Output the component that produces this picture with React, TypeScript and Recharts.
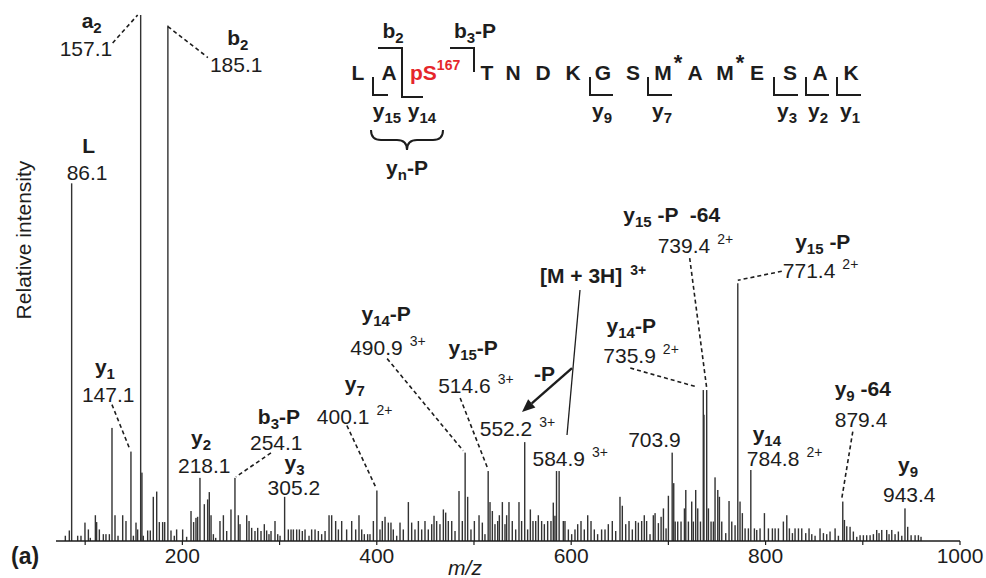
import React from 'react';
import { ComposedChart, Bar, Scatter, XAxis, YAxis } from 'recharts';

const FONT = '"Liberation Sans", Arial, Helvetica, sans-serif';
const INK = '#1d1d1d';
const RED = '#e5262b';

// labelled fragment peaks: [m/z, relative intensity]
const fragmentPeaks: [number, number][] = [
  [86.1, 68], [147.1, 17], [157.1, 100], [185.1, 98], [218.1, 12], [254.1, 12],
  [305.2, 8.4], [400.1, 9.6], [490.9, 16.8], [514.6, 13.3], [552.2, 18.8], [584.9, 13.3],
  [703.9, 16.8], [735.9, 28.7], [739.4, 28.7], [771.4, 49], [784.8, 13.5], [879.4, 7.5], [943.4, 6.2],
];

// ion names, '|' toggles subscript
const ionNames = [
  'L', 'y|1', 'a|2', 'b|2', 'y|2', 'b|3|-P', 'y|3', 'y|7', 'y|14|-P', 'y|15|-P',
  '', '', '', 'y|14|-P', 'y|15| -P  -64', 'y|15| -P', 'y|14', 'y|9| -64', 'y|9',
];

const ionCharges = [
  '', '', '', '', '', '', '', '2+', '3+', '3+', '3+', '3+', '', '2+', '2+', '2+', '2+', '', '',
];

// unlabelled background peaks: [m/z, relative intensity]
const noisePeaks: [number, number][] = [
  [79.6, 1.0], [83.7, 2.0], [92.3, 1.0], [95.7, 1.0], [99.8, 3.5], [103.3, 2.2], [105.3, 0.6],
  [110.5, 4.9], [111.8, 3.6], [114.6, 2.2], [118.7, 1.3], [121.4, 1.3], [124.9, 1.3], [127.6, 21.5],
  [130.7, 4.9], [133.8, 1.0], [138.6, 4.9], [142.0, 3.8], [149.6, 1.0], [152.3, 3.5], [154.0, 2.2],
  [158.4, 13.0], [159.8, 1.0], [164.3, 2.0], [167.0, 2.0], [170.1, 8.4], [173.6, 9.4], [176.3, 3.6],
  [179.7, 3.6], [181.8, 3.6], [188.3, 2.0], [191.7, 1.0], [194.1, 2.2], [200.3, 2.2], [204.4, 0.8],
  [208.9, 5.7], [211.6, 3.6], [214.0, 4.4], [215.7, 4.6], [222.6, 7.0], [226.0, 7.9], [227.7, 9.3],
  [229.5, 4.9], [231.9, 1.3], [234.3, 0.6], [238.7, 3.8], [242.2, 4.9], [245.6, 1.9], [250.0, 6.0],
  [257.6, 4.9], [259.3, 3.2], [266.2, 4.9], [268.6, 3.8], [271.3, 2.5], [274.7, 1.9], [277.5, 2.5],
  [280.9, 1.9], [284.3, 3.2], [286.7, 2.0], [289.1, 1.3], [291.2, 1.9], [295.3, 3.8], [298.1, 1.3],
  [300.5, 1.0], [309.0, 2.2], [311.8, 2.2], [314.2, 2.2], [317.6, 2.2], [320.4, 2.2], [323.4, 1.9],
  [326.2, 2.2], [330.3, 1.0], [333.0, 2.2], [336.5, 2.2], [339.9, 1.9], [343.3, 1.3], [346.8, 1.9],
  [350.9, 4.9], [353.6, 4.9], [357.7, 3.8], [360.5, 2.2], [363.9, 3.8], [369.0, 2.2], [374.2, 3.8],
  [378.3, 2.2], [381.7, 4.9], [384.5, 2.2], [387.2, 1.3], [390.6, 1.3], [393.0, 1.3], [396.5, 3.8],
  [403.3, 2.2], [405.7, 3.8], [408.5, 4.6], [411.9, 3.5], [414.6, 3.5], [417.0, 2.2], [420.5, 1.0],
  [423.9, 3.5], [427.3, 2.2], [432.5, 7.4], [435.9, 3.5], [439.3, 2.2], [442.8, 3.8], [446.2, 2.2],
  [449.6, 3.8], [453.0, 2.2], [456.5, 3.2], [458.9, 4.8], [461.6, 3.8], [465.0, 3.2], [468.5, 6.0],
  [470.9, 5.4], [473.6, 3.8], [477.1, 3.8], [480.5, 1.9], [484.6, 9.5], [488.0, 3.8], [493.5, 8.4],
  [496.9, 2.2], [500.4, 3.8], [505.2, 4.9], [508.6, 3.5], [511.3, 1.3], [516.5, 7.4], [518.9, 5.7],
  [521.6, 3.2], [524.4, 3.8], [526.1, 4.9], [529.2, 7.4], [531.9, 3.2], [533.6, 4.9], [536.0, 7.4],
  [539.4, 3.8], [542.9, 2.2], [546.3, 7.4], [549.0, 3.8], [555.2, 2.2], [558.0, 6.0], [560.7, 3.8],
  [563.5, 3.8], [566.2, 4.9], [569.6, 3.8], [572.4, 3.2], [575.8, 3.8], [579.2, 3.8], [581.6, 7.3],
  [583.3, 4.8], [587.6, 13.3], [591.9, 3.8], [593.6, 3.8], [597.1, 2.2], [600.5, 1.3], [603.9, 2.2],
  [606.7, 3.2], [610.1, 3.8], [613.5, 2.2], [617.0, 4.9], [620.4, 3.8], [623.8, 2.2], [627.2, 1.3],
  [631.3, 2.2], [634.8, 2.2], [638.2, 3.2], [642.3, 3.8], [645.8, 1.9], [650.2, 8.4], [652.6, 6.7],
  [656.1, 3.2], [659.5, 3.8], [662.9, 2.2], [666.3, 3.8], [669.1, 3.5], [672.5, 3.8], [675.2, 4.9],
  [677.6, 3.8], [681.1, 1.3], [684.5, 4.9], [686.3, 5.3], [689.7, 3.4], [692.5, 4.6], [694.9, 6.2],
  [697.6, 2.4], [700.0, 8.6], [705.5, 11.0], [707.0, 3.7], [709.6, 3.7], [713.0, 3.7], [716.5, 6.2],
  [717.9, 9.7], [720.6, 3.7], [724.0, 7.5], [725.7, 3.7], [728.1, 9.7], [730.2, 6.2], [733.0, 3.7],
  [736.6, 24.0], [741.2, 6.2], [743.9, 3.7], [746.3, 3.7], [748.0, 12.1], [750.8, 9.7], [752.5, 8.4],
  [754.9, 3.7], [759.0, 1.5], [762.4, 7.6], [765.2, 3.7], [768.6, 3.0], [773.7, 7.5], [776.1, 5.3],
  [778.9, 2.4], [782.3, 2.4], [788.5, 2.4], [790.9, 2.1], [794.3, 2.4], [798.8, 5.3], [802.9, 2.4],
  [807.0, 2.4], [809.8, 2.4], [813.2, 2.4], [818.3, 3.7], [821.8, 4.9], [824.5, 2.4], [827.6, 1.5],
  [830.3, 2.4], [833.8, 2.4], [837.2, 2.4], [841.3, 1.5], [844.7, 2.4], [847.5, 1.3], [850.9, 1.0],
  [856.0, 2.4], [859.5, 1.5], [862.9, 1.3], [866.3, 1.8], [871.5, 2.4], [874.9, 1.0], [881.1, 4.0],
  [883.5, 2.8], [886.9, 2.7], [890.3, 1.8], [893.8, 0.8], [897.2, 1.1], [900.6, 1.1], [904.0, 1.1],
  [907.5, 1.1], [910.9, 1.3], [914.3, 2.1], [916.7, 1.5], [919.5, 2.1], [924.6, 2.1], [927.0, 1.3],
  [929.8, 2.1], [933.2, 1.3], [936.6, 1.8], [940.1, 1.0], [946.2, 2.7], [949.7, 1.1], [953.8, 1.1],
  [957.2, 1.1], [959.9, 0.8],
];

const xTicks = [100, 200, 300, 400, 500, 600, 700, 800, 900, 1000];
const xTickLabels = [200, 400, 600, 800, 1000];

// label placement, pixel offsets from the peak top: n = name centre, v = value start, lead = dashed line
type Layout = { n?: number[]; v: number[]; lead?: number[]; precursor?: boolean };
const LABEL_LAYOUT: Layout[] = [
  { n: [17, -30], v: [-5, -3] },
  { n: [-26, -78], v: [-49, -50], lead: [-19, -47, -1, -2] },
  { n: [-49, 13], v: [-81, 41], lead: [-28, 28, -3, 0] },
  { n: [70, 19], v: [42, 46], lead: [0, 1, 40, 32] },
  { n: [1, -33], v: [-22, -5] },
  { n: [44, -54], v: [15, -28], lead: [36, -25, 1, -1] },
  { n: [10, -27], v: [-17, -2] },
  { n: [-22, -100], v: [-60, -67], lead: [-30, -65, -1, -3] },
  { n: [-79, -132], v: [-115, -98], lead: [-78, -94, -2, -2] },
  { n: [-15, -116], v: [-50, -78], lead: [-28, -73, -1, -4] },
  { v: [-45, -6] },
  { v: [-24, -5], precursor: true },
  { v: [-44, -6] },
  { n: [-72, -57], v: [-100, -27], lead: [-73, -22, -6, -3] },
  { n: [-35, -168], v: [-49, -137], lead: [-17, -132, 0, -2] },
  { n: [85, -34], v: [45, -5], lead: [44, -12, 0, -3] },
  { n: [16, -29], v: [-4, -4] },
  { n: [20, -106], v: [-8, -75], lead: [10, -70, -1, -3] },
  { n: [3, -36], v: [-22, -6] },
];

const spectrum = [...fragmentPeaks, ...noisePeaks]
  .map(([mz, i]) => ({ mz, i }))
  .sort((a, b) => a.mz - b.mz);

const annotations = fragmentPeaks.map(([mz, i], k) => ({
  mz,
  i,
  name: ionNames[k],
  charge: ionCharges[k],
  layout: LABEL_LAYOUT[k],
}));

const richText = (spec: string, subSize: number, drop: number) => {
  let shift = 0;
  return spec.split('|').map((part, k) => {
    const sub = k % 2 === 1;
    const target = sub ? drop : 0;
    const dy = target - shift;
    shift = target;
    return (
      <tspan key={k} dy={dy} fontSize={sub ? subSize : undefined}>
        {part}
      </tspan>
    );
  });
};

const PeakStick = (props: any) => {
  const { x, y, width, height } = props;
  if (height == null || height <= 0) return null;
  const cx = x + width / 2;
  return <rect x={cx - 0.7} y={y} width={1.4} height={height} fill="#333" />;
};

const arrowHead = (x1: number, y1: number, x2: number, y2: number) => {
  const a = Math.atan2(y2 - y1, x2 - x1);
  const L = 13;
  const W = 5.5;
  const bx = x2 - L * Math.cos(a);
  const by = y2 - L * Math.sin(a);
  const pts = [
    [x2, y2],
    [bx + W * Math.sin(a), by - W * Math.cos(a)],
    [bx - W * Math.sin(a), by + W * Math.cos(a)],
  ];
  return { bx, by, pts: pts.map((p) => p.join(',')).join(' ') };
};

const Annotation = (props: any) => {
  const { cx, cy, payload } = props;
  if (cx == null || cy == null) return null;
  const lay: Layout = payload.layout;
  const value = payload.mz.toFixed(1);
  const head = lay.precursor ? arrowHead(cx + 15.5, cy - 103, cx - 34.5, cy - 59) : null;
  return (
    <g fontFamily={FONT} fill={INK}>
      {lay.lead && (
        <line
          x1={cx + lay.lead[0]}
          y1={cy + lay.lead[1]}
          x2={cx + lay.lead[2]}
          y2={cy + lay.lead[3]}
          stroke={INK}
          strokeWidth={1.6}
          strokeDasharray="4 3"
        />
      )}
      {lay.n && payload.name && (
        <text
          x={cx + lay.n[0]}
          y={cy + lay.n[1]}
          textAnchor="middle"
          fontSize={21}
          fontWeight="bold"
          style={{ whiteSpace: 'pre' }}
        >
          {richText(payload.name, 15, 5)}
        </text>
      )}
      <text x={cx + lay.v[0]} y={cy + lay.v[1]} fontSize={21} style={{ whiteSpace: 'pre' }}>
        {value}
        {payload.charge && (
          <tspan dx={7} dy={-9} fontSize={14}>
            {payload.charge}
          </tspan>
        )}
      </text>
      {head && (
        <g>
          <line x1={cx + 23.5} y1={cy - 181} x2={cx + 10.5} y2={cy - 36} stroke={INK} strokeWidth={1.3} />
          <line x1={cx + 15.5} y1={cy - 103} x2={head.bx} y2={head.by} stroke={INK} strokeWidth={2.4} />
          <polygon points={head.pts} fill={INK} />
          <text x={cx - 12} y={cy - 90} textAnchor="middle" fontSize={21} fontWeight="bold">
            -P
          </text>
          <text x={cx - 16.5} y={cy - 188} fontSize={21} fontWeight="bold" style={{ whiteSpace: 'pre' }}>
            [M + 3H]
            <tspan dx={8} dy={-8} fontSize={14}>
              3+
            </tspan>
          </text>
        </g>
      )}
    </g>
  );
};

const letter = (ch: string, x: number, color = INK) => (
  <text key={`${ch}${x}`} x={x} y={80} textAnchor="middle" fill={color}>
    {ch}
  </text>
);

const Peptide = () => (
  <g fontFamily={FONT} fontWeight="bold" fontSize={21} fill={INK}>
    {letter('L', 358)}
    {letter('A', 389)}
    <text x={410} y={80} fill={RED}>
      pS
      <tspan dy={-10} fontSize={14}>
        167
      </tspan>
    </text>
    {letter('T', 487)}
    {letter('N', 513)}
    {letter('D', 543)}
    {letter('K', 573)}
    {letter('G', 603)}
    {letter('S', 633)}
    {letter('M', 663)}
    {letter('A', 695)}
    {letter('M', 725)}
    {letter('E', 757)}
    {letter('S', 790)}
    {letter('A', 820)}
    {letter('K', 851)}
    <text x={678} y={70} textAnchor="middle" fontSize={22}>*</text>
    <text x={740} y={70} textAnchor="middle" fontSize={22}>*</text>
    <g fill="none" stroke={INK} strokeWidth={2}>
      <path d="M373 77 V95 H388" />
      <path d="M378 48 H402 V97 H423" />
      <path d="M450 48 H474 V72" />
      <path d="M590 77 V95 H613" />
      <path d="M648 77 V95 H672" />
      <path d="M774 77 V95 H798" />
      <path d="M806 77 V95 H829" />
      <path d="M837 77 V95 H861" />
      <path d="M371 130 Q371 140 381 140 L397 140 Q407 140 407 150 Q407 140 417 140 L433 140 Q443 140 443 130" />
    </g>
    <text x={393} y={38} textAnchor="middle">{richText('b|2', 15, 5)}</text>
    <text x={475} y={38} textAnchor="middle">{richText('b|3|-P', 15, 5)}</text>
    <text x={387} y={118} textAnchor="middle">{richText('y|15', 15, 5)}</text>
    <text x={422} y={118} textAnchor="middle">{richText('y|14', 15, 5)}</text>
    <text x={602} y={118} textAnchor="middle">{richText('y|9', 15, 5)}</text>
    <text x={662} y={118} textAnchor="middle">{richText('y|7', 15, 5)}</text>
    <text x={787} y={118} textAnchor="middle">{richText('y|3', 15, 5)}</text>
    <text x={818} y={118} textAnchor="middle">{richText('y|2', 15, 5)}</text>
    <text x={850} y={118} textAnchor="middle">{richText('y|1', 15, 5)}</text>
    <text x={407} y={175} textAnchor="middle">{richText('y|n|-P', 15, 5)}</text>
  </g>
);

export default function App() {
  return (
    <div
      style={{
        position: 'absolute',
        left: 0,
        top: 0,
        width: 986,
        height: 578,
        background: '#fff',
        fontFamily: FONT,
      }}
    >
      <ComposedChart
        width={986}
        height={578}
        data={spectrum}
        margin={{ top: 15, right: 26, bottom: 7, left: 56 }}
      >
        <XAxis
          type="number"
          dataKey="mz"
          domain={[70, 1000]}
          ticks={xTicks}
          interval={0}
          tickFormatter={(v: number) => (xTickLabels.includes(v) ? String(v) : '')}
          tickSize={4}
          tickMargin={3}
          height={30}
          axisLine={{ stroke: INK, strokeWidth: 1.5 }}
          tickLine={{ stroke: INK, strokeWidth: 1.2 }}
          tick={{ fontSize: 21, fill: INK, fontFamily: FONT }}
        />
        <YAxis
          type="number"
          dataKey="i"
          domain={[0, 100]}
          width={0}
          tick={false}
          tickLine={false}
          axisLine={{ stroke: INK, strokeWidth: 1.5 }}
        />
        <Bar dataKey="i" shape={PeakStick} isAnimationActive={false} />
        <Scatter data={annotations} dataKey="i" shape={Annotation} isAnimationActive={false} />
      </ComposedChart>
      <svg
        width={986}
        height={578}
        style={{ position: 'absolute', left: 0, top: 0, pointerEvents: 'none' }}
      >
        <Peptide />
        <text
          transform="translate(31 240) rotate(-90)"
          textAnchor="middle"
          fontFamily={FONT}
          fontSize={21}
          fill={INK}
        >
          Relative intensity
        </text>
        <text x={465} y={575} textAnchor="middle" fontFamily={FONT} fontSize={21} fontStyle="italic" fill={INK}>
          m/z
        </text>
        <text x={11} y={564} fontFamily={FONT} fontSize={23} fontWeight="bold" fill={INK}>
          (a)
        </text>
      </svg>
    </div>
  );
}
